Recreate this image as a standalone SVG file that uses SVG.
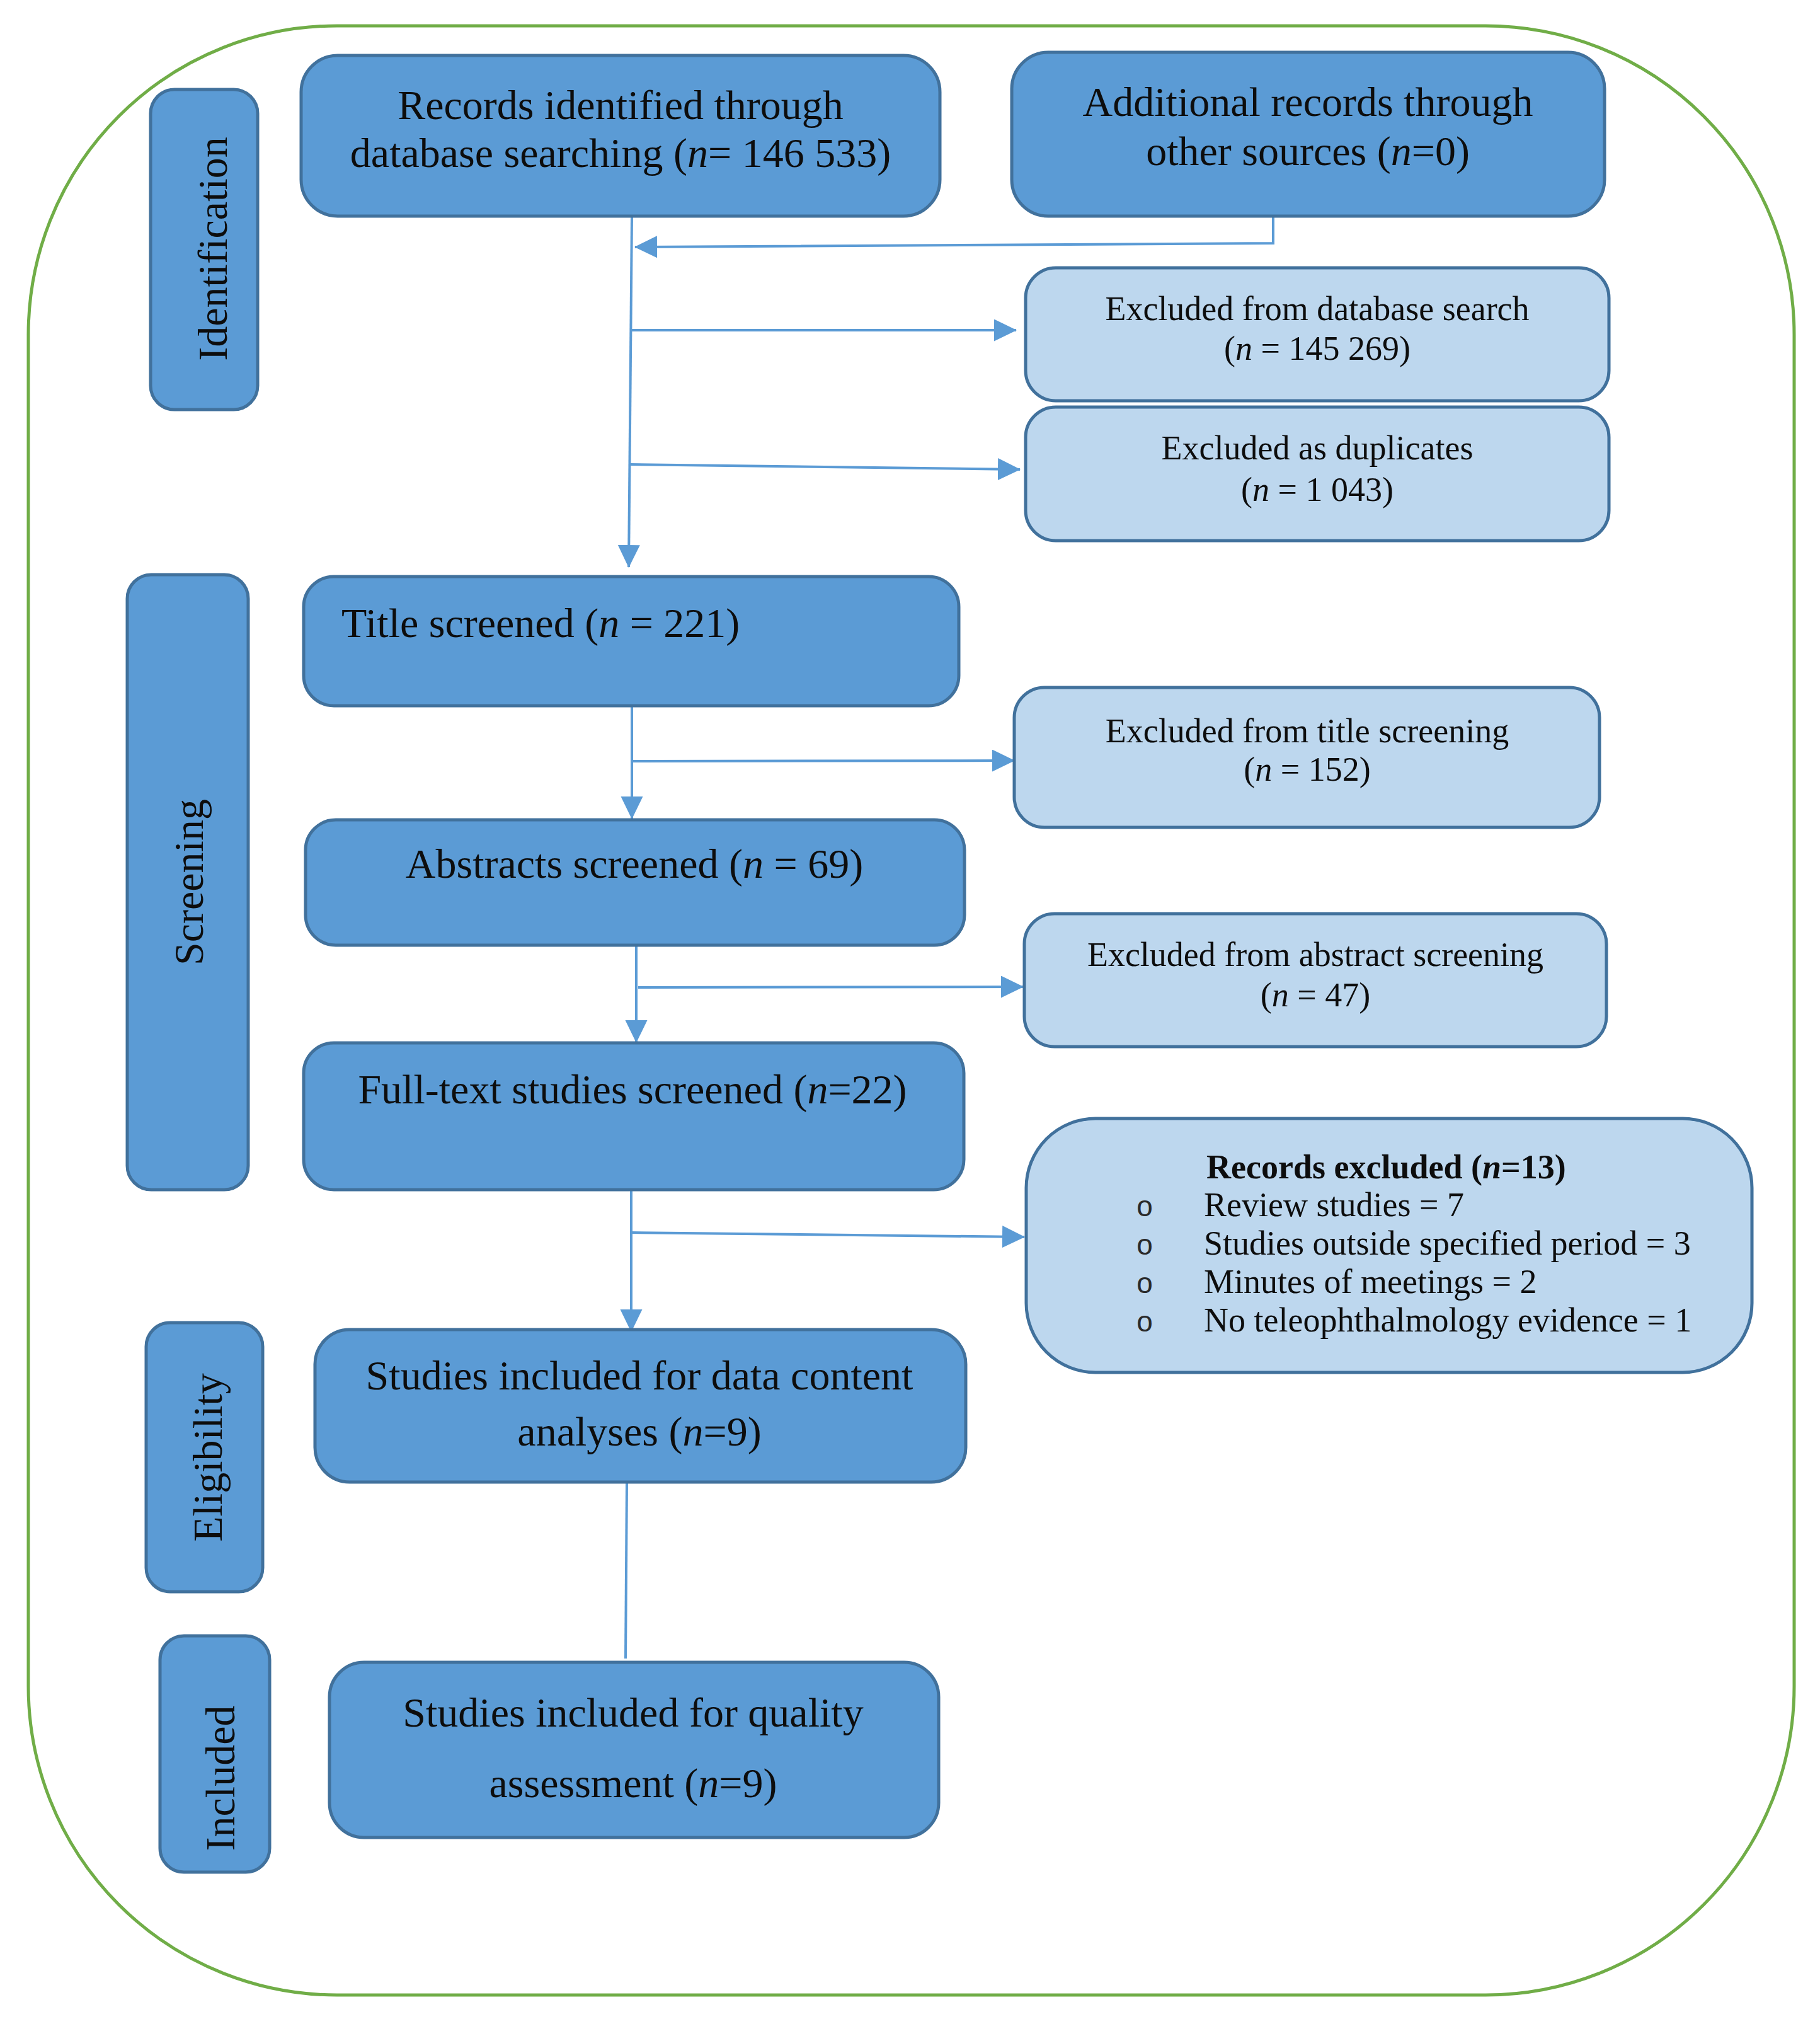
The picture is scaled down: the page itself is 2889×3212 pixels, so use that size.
<svg xmlns="http://www.w3.org/2000/svg" width="2889" height="3212" viewBox="0 0 2889 3212">
<style>
.dark{fill:#5b9bd5;stroke:#41719c;stroke-width:5}
.light{fill:#bdd7ee;stroke:#41719c;stroke-width:5}
.t{font-family:"Liberation Serif","Times New Roman",serif;fill:#0d0d0d}
.big{font-size:66px}
.sm{font-size:54px}
.mid{text-anchor:middle}
.bul{font-family:"Liberation Sans",Arial,sans-serif;font-size:46px;fill:#2a2a2a;text-anchor:middle}
.conn{fill:none;stroke:#5b9bd5;stroke-width:4}
.arr{marker-end:url(#ah)}
</style>
<defs>
<marker id="ah" markerUnits="userSpaceOnUse" markerWidth="36" markerHeight="36" refX="35" refY="17.5" orient="auto">
<path d="M0,0 L36,17.5 L0,35 z" fill="#5b9bd5"/>
</marker>
</defs>
<rect width="2889" height="3212" fill="#ffffff"/>
<rect id="frame" x="45" y="41" width="2803" height="3125" rx="490" ry="490" fill="none" stroke="#70ad47" stroke-width="5"/>

<g id="connectors">
<path class="conn arr" d="M1003,343 L998,900"/>
<path class="conn arr" d="M2021,343 L2021,386 L1008,392"/>
<path class="conn arr" d="M1003,524 L1613,524"/>
<path class="conn arr" d="M1001,737 L1619,745"/>
<path class="conn arr" d="M1003,1120 L1003,1299"/>
<path class="conn arr" d="M1003,1208 L1610,1207"/>
<path class="conn arr" d="M1010,1500 L1010,1654"/>
<path class="conn arr" d="M1013,1567 L1624,1566"/>
<path class="conn arr" d="M1002,1888 L1002,2113"/>
<path class="conn arr" d="M1002,1956 L1626,1963"/>
<path class="conn" d="M995,2352 L993,2632"/>
</g>

<g id="lbl-identification">
<rect class="dark" x="239" y="142" width="170" height="508" rx="38"/>
<text class="t big mid" transform="translate(360,395) rotate(-90)">Identification</text>
</g>
<g id="lbl-screening">
<rect class="dark" x="202" y="912" width="192" height="976" rx="38"/>
<text class="t big mid" transform="translate(322,1400) rotate(-90)">Screening</text>
</g>
<g id="lbl-eligibility">
<rect class="dark" x="232" y="2099" width="185" height="427" rx="38"/>
<text class="t big mid" transform="translate(352,2313) rotate(-90)">Eligibility</text>
</g>
<g id="lbl-included">
<rect class="dark" x="254" y="2596" width="174" height="375" rx="38"/>
<text class="t big mid" transform="translate(372,2822) rotate(-90)">Included</text>
</g>

<g id="n-records">
<rect class="dark" x="478" y="88" width="1014" height="255" rx="58"/>
<text class="t big mid" x="985" y="189">Records identified through</text>
<text class="t big mid" x="985" y="265">database searching (<tspan font-style="italic">n</tspan>= 146 533)</text>
</g>
<g id="n-additional">
<rect class="dark" x="1606" y="83" width="941" height="260" rx="58"/>
<text class="t big mid" x="2076" y="184">Additional records through</text>
<text class="t big mid" x="2076" y="262">other sources (<tspan font-style="italic">n</tspan>=0)</text>
</g>
<g id="n-excl-db">
<rect class="light" x="1628" y="425" width="926" height="211" rx="48"/>
<text class="t sm mid" x="2091" y="508">Excluded from database search</text>
<text class="t sm mid" x="2091" y="571">(<tspan font-style="italic">n</tspan> = 145 269)</text>
</g>
<g id="n-excl-dup">
<rect class="light" x="1628" y="646" width="926" height="212" rx="48"/>
<text class="t sm mid" x="2091" y="729">Excluded as duplicates</text>
<text class="t sm mid" x="2091" y="795">(<tspan font-style="italic">n</tspan> = 1 043)</text>
</g>
<g id="n-title">
<rect class="dark" x="482" y="915" width="1040" height="205" rx="48"/>
<text class="t big" x="542" y="1011">Title screened (<tspan font-style="italic">n</tspan> = 221)</text>
</g>
<g id="n-excl-title">
<rect class="light" x="1610" y="1091" width="929" height="222" rx="48"/>
<text class="t sm mid" x="2075" y="1178">Excluded from title screening</text>
<text class="t sm mid" x="2075" y="1239">(<tspan font-style="italic">n</tspan> = 152)</text>
</g>
<g id="n-abstracts">
<rect class="dark" x="485" y="1301" width="1046" height="199" rx="48"/>
<text class="t big mid" x="1007" y="1393">Abstracts screened (<tspan font-style="italic">n</tspan> = 69)</text>
</g>
<g id="n-excl-abstract">
<rect class="light" x="1626" y="1450" width="924" height="211" rx="48"/>
<text class="t sm mid" x="2088" y="1533">Excluded from abstract screening</text>
<text class="t sm mid" x="2088" y="1597">(<tspan font-style="italic">n</tspan> = 47)</text>
</g>
<g id="n-fulltext">
<rect class="dark" x="482" y="1655" width="1048" height="233" rx="48"/>
<text class="t big mid" x="1004" y="1751">Full-text studies screened (<tspan font-style="italic">n</tspan>=22)</text>
</g>
<g id="n-records-excluded">
<rect class="light" x="1629" y="1775" width="1152" height="403" rx="110"/>
<text class="t sm" x="1915" y="1870" font-weight="bold">Records excluded (<tspan font-style="italic">n</tspan>=13)</text>
<text class="bul" x="1817" y="1930">o</text>
<text class="t sm" x="1911" y="1930">Review studies = 7</text>
<text class="bul" x="1817" y="1991">o</text>
<text class="t sm" x="1911" y="1991">Studies outside specified period = 3</text>
<text class="bul" x="1817" y="2052">o</text>
<text class="t sm" x="1911" y="2052">Minutes of meetings = 2</text>
<text class="bul" x="1817" y="2113">o</text>
<text class="t sm" x="1911" y="2113">No teleophthalmology evidence = 1</text>
</g>
<g id="n-data">
<rect class="dark" x="500" y="2110" width="1033" height="242" rx="55"/>
<text class="t big mid" x="1015" y="2205">Studies included for data content</text>
<text class="t big mid" x="1015" y="2294">analyses (<tspan font-style="italic">n</tspan>=9)</text>
</g>
<g id="n-quality">
<rect class="dark" x="523" y="2638" width="967" height="278" rx="55"/>
<text class="t big mid" x="1005" y="2740">Studies included for quality</text>
<text class="t big mid" x="1005" y="2852">assessment (<tspan font-style="italic">n</tspan>=9)</text>
</g>
</svg>
